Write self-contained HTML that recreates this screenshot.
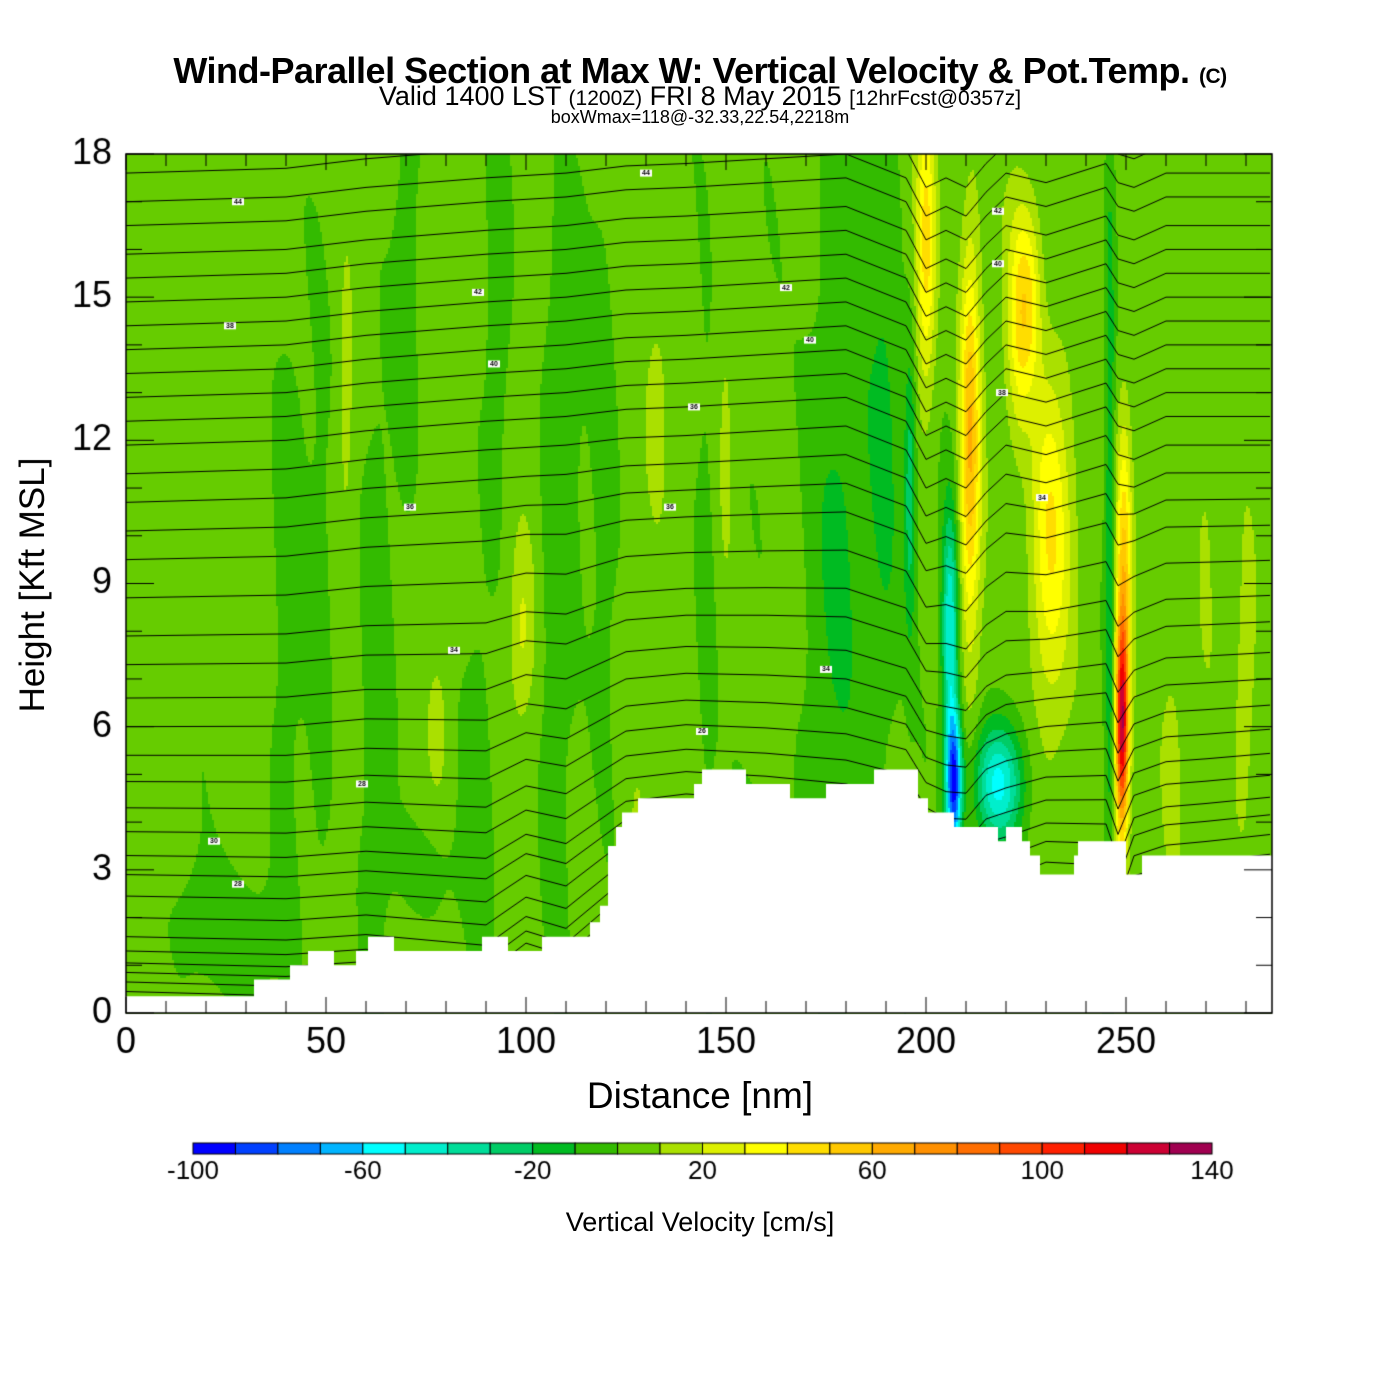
<!DOCTYPE html>
<html><head><meta charset="utf-8">
<style>
html,body{margin:0;padding:0;background:#fff;}
#wrap{position:relative;width:1400px;height:1400px;background:#fff;font-family:"Liberation Sans",sans-serif;}
.t{position:absolute;white-space:nowrap;color:#000;}
canvas{position:absolute;left:0;top:0;}
</style></head>
<body>
<div id="wrap">
<canvas id="cv" width="1400" height="1400"></canvas>
<div class="t" style="left:0;width:1400px;text-align:center;top:50px;font-size:36px;font-weight:bold;letter-spacing:-0.5px;">Wind-Parallel Section at Max W: Vertical Velocity &amp; Pot.Temp. <span style="font-size:21px">(C)</span></div>
<div class="t" style="left:0;width:1400px;text-align:center;top:81px;font-size:27px;">Valid 1400 LST <span style="font-size:21px">(1200Z)</span> FRI 8 May 2015 <span style="font-size:21px">[12hrFcst@0357z]</span></div>
<div class="t" style="left:0;width:1400px;text-align:center;top:107px;font-size:18px;">boxWmax=118@-32.33,22.54,2218m</div>
<div class="t" style="left:0;width:1400px;text-align:center;top:1075px;font-size:37px;">Distance [nm]</div>
<div class="t" style="left:33px;top:585px;font-size:35px;transform:translate(-50%,-50%) rotate(-90deg);">Height [Kft MSL]</div>
<div class="t" style="left:0;width:1400px;text-align:center;top:1207px;font-size:27px;">Vertical Velocity [cm/s]</div>
</div>
<script>
// ---- data ----
const xTicks=[0,50,100,150,200,250];
const yTicks=[0,3,6,9,12,15,18];
const cbTicks=[-100,-60,-20,20,60,100,140];
const cbColors=["#0000ff","#0040ff","#0080ff","#00b4ff","#00ffff","#00eecc","#00dd99","#00cc66","#00bb22","#33bb00","#66cc00","#aae000","#ddf000","#ffff00","#ffdd00","#ffc800","#ffaa00","#ff9000","#ff6e00","#ff4800","#ff2000","#f00000","#cc0033","#a00050"];
// terrain steps (nm start, kft height)
const terrD=[0,32,35,41,45.5,52,57.5,60.5,67,89,95.5,103.5,104,105.5,116,118.5,120.5,122.5,124,128,130,142,144,155,166,175,187,198,200.5,207,218,220,224,226,228.5,237,238,246,250,254,255,286.5];
const terrZ=[0.35,0.7,0.7,1.0,1.3,1.0,1.3,1.6,1.3,1.6,1.3,1.3,1.6,1.6,1.9,2.25,3.5,3.9,4.2,4.5,4.5,4.8,5.1,4.8,4.5,4.8,5.1,4.5,4.2,3.9,3.6,3.9,3.6,3.3,2.9,3.3,3.6,3.6,2.9,3.3,3.3,3.3];
// velocity features: centre distance (nm), height (kft), half-widths, amplitude (cm/s)
const fD =[30, 49, 55, 62, 70, 78, 88, 99,107, 93,120,133,128,145,150,178,190,196,200,207,206,218,211,223,231,226,249,249.5,246,262,270,280,40,110,160,20,75];
const fZ =[1.5, 7,13, 8, 15, 6,4,  8,  9, 15, 10,12.5,3.5, 9, 12, 10, 12, 11, 16, 4.8, 8, 4.8,12,14.5,10,15, 6, 9.5, 10, 5, 10, 7,10,14,3,2,3];
const fSD=[8, 3,1.5, 4, 3, 2,4,  3,  4,  3,  4,  3,  2,  3,  2, 10,  4,1.5,2.5,  2,  2,  6,2.5, 3,  5, 3,1.6, 2, 1.2, 3, 3, 3,5,4,7,10,10];
const fSZ=[1.5,6,2.5, 7, 4,1.2,4,1.8,  8,  4,  8,2.5,1.5, 8,  3,  8,  6,  3,  3,1.5,2.5,1.2, 4,2.5,3.5,2,2.2, 3, 9, 3, 4, 3,6,4,2,1.2,1.2];
const fA =[-10,-9,12,-9,-9,10,-9, 16, -9, -9, -9, 13, 10, -9, 8,-14,-16,-30, 42,-95,-55,-55, 55, 30, 36,30,120,45,-22, 10, 9, 9,-8,-8,-8,-8,-8];
// isentrope levels (height at x=0, kft)
const thZ=[0.45,0.65,0.85,1.05,1.3,1.6,2.0,2.45,2.9,3.3,3.8,4.3,4.85,5.4,6.0,6.6,7.3,7.9,8.7,9.5,10.1,10.7,11.3,11.9,12.4,12.9,13.4,13.9,14.4,14.9,15.4,15.9,16.5,17.0,17.6];
const dispD =[0,40,60,90,100,110,125,140,160,180,195,200,205,210,215,220,230,245,248,252,260,270,287];
const dispUp=[0,0.1,0.3,0.5,0.55,0.6,0.75,0.8,0.9,1.0,0.5,-0.3,-0.1,-0.3,0.2,0.6,0.4,0.8,0.4,0.3,0.6,0.6,0.6];
const dispLo=[0,-0.1,0,-0.3,0.4,0.1,1.3,1.5,1.3,1.0,0.8,0.2,-0.3,-0.2,0.3,0.3,0.8,0.6,-0.3,1.0,1.2,1.3,1.5];
const thLabD=[28,26,82,130,88,92,165,171,142,136,218,218,229,219,144,175,59,71,22,28];
const thLabZ=[17.0,14.4,7.6,17.6,15.1,13.6,15.2,14.1,12.7,10.6,16.8,15.7,10.8,13.0,5.9,7.2,4.8,10.6,3.6,2.7];
const thLab=["44","38","34","44","42","40","42","40","36","36","42","40","34","38","26","34","28","36","30","28"];
// ---- axes ----
const L=126,R=1272,T=154,B=1013,DMAX=286.5;
const X=d=>L+d*(R-L)/DMAX;
const Y=z=>B-z*(B-T)/18;
const cv=document.getElementById('cv');const c=cv.getContext('2d');
function interp(xs,ys,x){if(x<=xs[0])return ys[0];for(let i=1;i<xs.length;i++){if(x<=xs[i]){const t=(x-xs[i-1])/(xs[i]-xs[i-1]);return ys[i-1]+t*(ys[i]-ys[i-1]);}}return ys[ys.length-1];}
function terr(d){let h=terrZ[0];for(let i=0;i<terrD.length;i++){if(d>=terrD[i])h=terrZ[i];}return h;}
function val(d,z){let v=4;for(let i=0;i<fD.length;i++){const a=(d-fD[i])/fSD[i],b=(z-fZ[i])/fSZ[i];const e=a*a+b*b;if(e<9)v+=fA[i]*Math.exp(-e);}
 v+=4*Math.sin(d*0.33+z*0.3)*Math.cos(z*0.45+d*0.05);return v;}
function col(v){let i=Math.floor((v+100)/10);i=Math.max(0,Math.min(23,i));return cbColors[i];}
// shading
const S=2;
for(let px=L;px<R;px+=S){const d=(px+S/2-L)*DMAX/(R-L);for(let py=T;py<B;py+=S){const z=(B-(py+S/2))*18/(B-T);c.fillStyle=col(val(d,z));c.fillRect(px,py,S,S);}}
// isentropes
c.save();c.beginPath();c.rect(L,T,R-L,B-T);c.clip();
c.strokeStyle="#000";c.lineWidth=1;
thZ.forEach(z0=>{const w=Math.min(1,z0/11);c.beginPath();for(let d=0;d<=DMAX;d+=1){const dz=w*interp(dispD,dispUp,d)+(1-w)*interp(dispD,dispLo,d);const z=z0+dz;const px=X(d),py=Y(z);if(d===0)c.moveTo(px,py);else c.lineTo(px,py);}c.stroke();});
// terrain
c.fillStyle="#fff";c.beginPath();c.moveTo(L,B);for(let i=0;i<terrD.length;i++){const x0=X(terrD[i]),x1=i+1<terrD.length?X(terrD[i+1]):R;c.lineTo(x0,Y(terrZ[i]));c.lineTo(x1,Y(terrZ[i]));}c.lineTo(R,B);c.closePath();c.fill();
c.restore();
// theta labels
c.font="bold 7px 'Liberation Sans',sans-serif";c.textAlign="center";c.textBaseline="middle";
thLab.forEach((s,i)=>{const x=X(thLabD[i]),y=Y(thLabZ[i]);c.fillStyle="#fff";c.fillRect(x-6,y-3.5,12,7);c.fillStyle="#000";c.fillText(s,x,y);});
// frame + ticks
c.strokeStyle="#000";c.lineWidth=1.5;c.strokeRect(L,T,R-L,B-T);c.lineWidth=1;
c.beginPath();
for(let d=0;d<=DMAX;d+=10){const x=X(d),len=(d%50===0)?16:12;c.moveTo(x,B);c.lineTo(x,B-len);c.moveTo(x,T);c.lineTo(x,T+len);}
for(let z=0;z<=18;z++){const y=Y(z),len=(z%3===0)?28:16;c.moveTo(L,y);c.lineTo(L+len,y);c.moveTo(R,y);c.lineTo(R-len,y);}
c.stroke();
c.fillStyle="#000";c.font="36px 'Liberation Sans',sans-serif";
c.textAlign="center";c.textBaseline="top";xTicks.forEach(d=>c.fillText(String(d),X(d),1025));
c.textAlign="right";c.textBaseline="middle";yTicks.forEach(z=>c.fillText(String(z),112,Y(z)));
// colorbar
const cbL=193,cbR=1212,cbT=1143,cbH=11,bw=(cbR-cbL)/cbColors.length;
cbColors.forEach((k,i)=>{c.fillStyle=k;c.fillRect(cbL+i*bw,cbT,bw,cbH);c.strokeStyle="#000";c.strokeRect(cbL+i*bw,cbT,bw,cbH);});
c.fillStyle="#000";c.font="26px 'Liberation Sans',sans-serif";c.textAlign="center";c.textBaseline="top";
cbTicks.forEach(v=>c.fillText(String(v),cbL+(v+100)/10*bw,1159));
</script>
</body></html>
